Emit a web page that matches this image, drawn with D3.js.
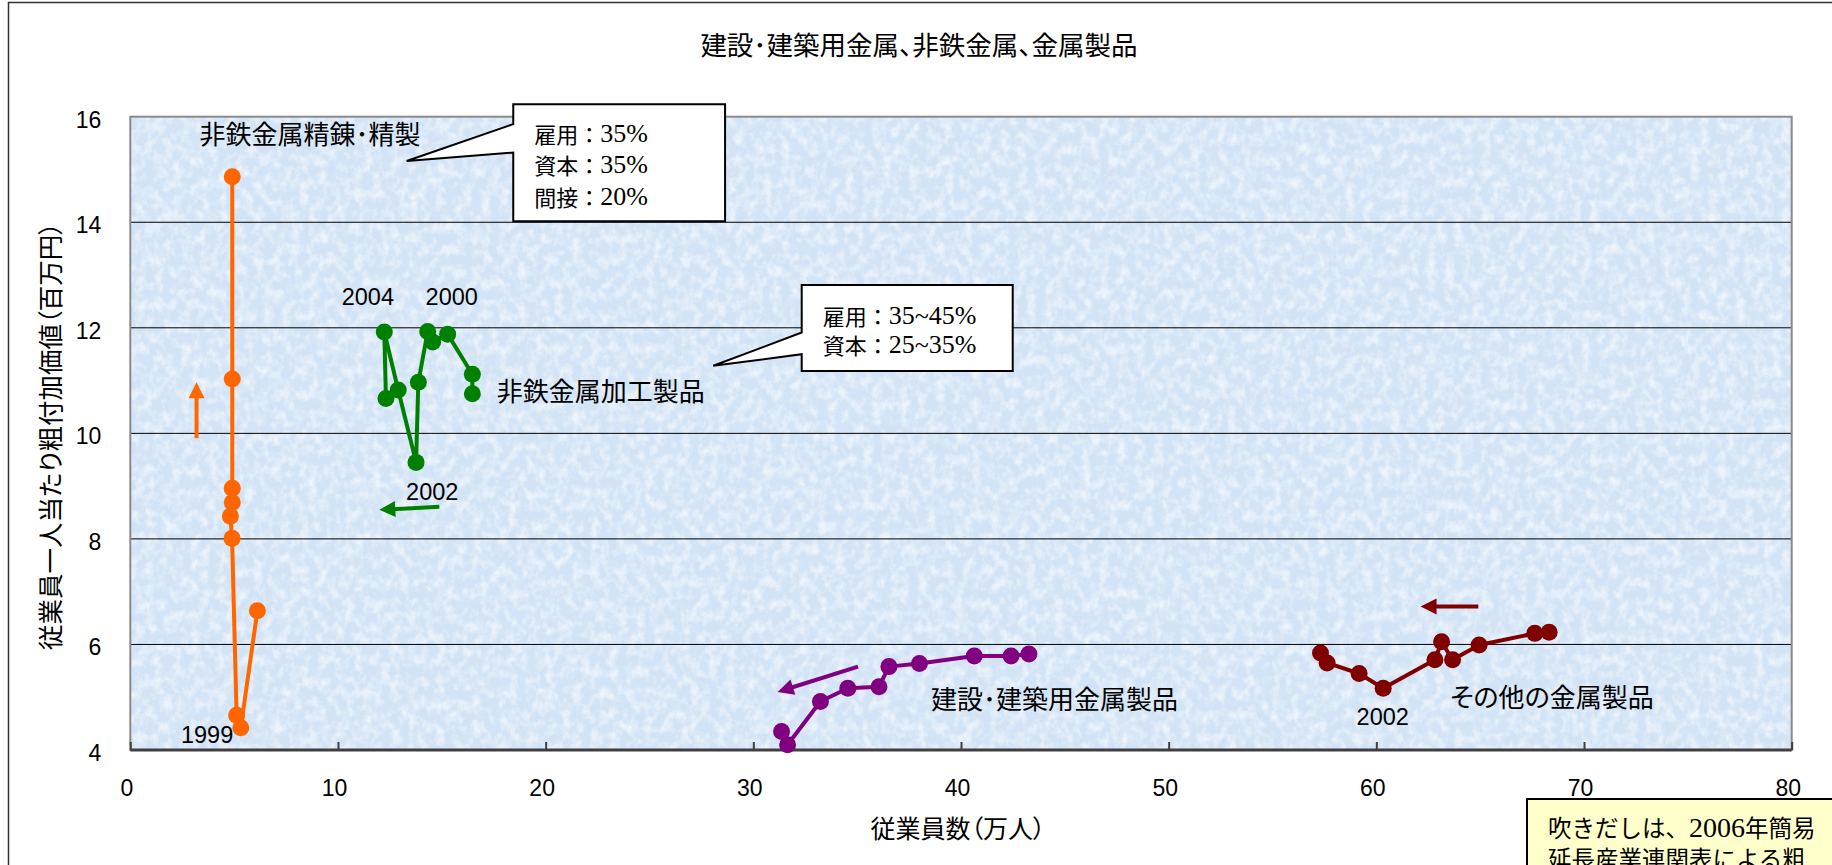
<!DOCTYPE html>
<html lang="ja">
<head>
<meta charset="utf-8">
<script src="https://cdn.jsdelivr.net/npm/d3@7"></script>
<style>
  html, body { margin: 0; padding: 0; background: #fff; overflow: hidden; }
  svg { display: block; }
  .cjk { font-family: "Noto Sans CJK JP", sans-serif; font-feature-settings: "palt"; fill: #000; }
  .cjkw { font-family: "Noto Sans CJK JP", sans-serif; fill: #000; }
  .num { font-family: "Liberation Sans", Arial, sans-serif; fill: #000; }
  .serif { font-family: "Liberation Serif", "Times New Roman", serif; }
</style>
</head>
<body>
<svg id="chart"></svg>
<script>
// Employees (10k persons) against gross value added per employee (million yen)
const chartTitle = "建設･建築用金属、非鉄金属、金属製品";
const xTitle = "従業員数（万人）";
const yTitle = "従業員一人当たり粗付加価値（百万円）";
const xTicks = [0, 10, 20, 30, 40, 50, 60, 70, 80];
const yTicks = [4, 6, 8, 10, 12, 14, 16];

const seriesNames = ["非鉄金属精錬･精製", "非鉄金属加工製品", "建設･建築用金属製品", "その他の金属製品"];
const seriesColors = ["#ff6600", "#008000", "#800080", "#800000"];

// 非鉄金属精錬･精製
const refiningEmp = [6.12, 5.32, 5.12, 4.90, 4.82, 4.91, 4.91, 4.91, 4.91];
const refiningVal = [6.64, 4.42, 4.66, 8.01, 8.43, 8.69, 8.96, 11.03, 14.86];
// 非鉄金属加工製品
const processingEmp = [16.47, 16.47, 15.28, 14.56, 14.32, 13.87, 13.76, 12.90, 12.23, 12.31];
const processingVal = [10.75, 11.12, 11.88, 11.73, 11.93, 10.97, 9.45, 10.82, 11.92, 10.66];
// 建設･建築用金属製品
const constructionEmp = [43.27, 42.41, 40.64, 38.00, 36.53, 36.05, 34.55, 33.23, 31.65, 31.36];
const constructionVal = [5.82, 5.78, 5.78, 5.64, 5.58, 5.20, 5.17, 4.92, 4.10, 4.35];
// その他の金属製品
const otherEmp = [68.32, 67.63, 64.95, 63.67, 63.14, 62.82, 60.33, 59.17, 57.63, 57.31];
const otherVal = [6.23, 6.21, 5.99, 5.71, 6.05, 5.71, 5.17, 5.45, 5.65, 5.84];

// callout lines: [Japanese part, numeric part]
const calloutTexts = [
  [["雇用：", "35%"], ["資本：", "35%"], ["間接：", "20%"]],
  [["雇用：", "35~45%"], ["資本：", "25~35%"]]
];
const noteLines = [["吹きだしは、", "2006", "年簡易"], ["延長産業連関表による粗"]];

const W = 1832, H = 865;
const svg = d3.select("#chart").attr("width", W).attr("height", H);

const x = d3.scaleLinear().domain([0, 80]).range([130.3, 1791.7]);
const y = d3.scaleLinear().domain([4, 16]).range([750, 116.7]);

// outer chart frame
svg.append("rect").attr("x", 8.5).attr("y", 2.5).attr("width", 1900).attr("height", 1000)
  .attr("fill", "#fff").attr("stroke", "#333").attr("stroke-width", 1.5);

// paper-like texture for the plot area
const defs = svg.append("defs");
const f1 = defs.append("filter").attr("id", "mottleLight")
  .attr("x", 0).attr("y", 0).attr("width", 1).attr("height", 1);
f1.append("feTurbulence").attr("type", "fractalNoise").attr("baseFrequency", "0.11 0.09")
  .attr("numOctaves", 4).attr("seed", 5);
f1.append("feColorMatrix").attr("type", "matrix")
  .attr("values", "0 0 0 0 1  0 0 0 0 1  0 0 0 0 1  2.4 0 0 0 -0.95");
const f2 = defs.append("filter").attr("id", "mottleDark")
  .attr("x", 0).attr("y", 0).attr("width", 1).attr("height", 1);
f2.append("feTurbulence").attr("type", "fractalNoise").attr("baseFrequency", "0.2 0.16")
  .attr("numOctaves", 3).attr("seed", 11);
f2.append("feColorMatrix").attr("type", "matrix")
  .attr("values", "0 0 0 0 0.68  0 0 0 0 0.8  0 0 0 0 0.94  0 2.4 0 0 -1.1");

const px0 = x(0), px1 = x(80), py0 = y(16), py1 = y(4);
svg.append("rect").attr("x", px0).attr("y", py0).attr("width", px1 - px0).attr("height", py1 - py0)
  .attr("fill", "#d2e3f5");
svg.append("rect").attr("x", px0).attr("y", py0).attr("width", px1 - px0).attr("height", py1 - py0)
  .attr("filter", "url(#mottleDark)").attr("opacity", 0.45);
svg.append("rect").attr("x", px0).attr("y", py0).attr("width", px1 - px0).attr("height", py1 - py0)
  .attr("filter", "url(#mottleLight)").attr("opacity", 0.6);

// horizontal gridlines
svg.append("g").selectAll("line").data(yTicks.filter(v => v > 4 && v < 16)).join("line")
  .attr("x1", px0).attr("x2", px1).attr("y1", d => y(d)).attr("y2", d => y(d))
  .attr("stroke", "#000").attr("stroke-width", 1);

// plot border
svg.append("rect").attr("x", px0).attr("y", py0).attr("width", px1 - px0).attr("height", py1 - py0)
  .attr("fill", "none").attr("stroke", "#8a8a8a").attr("stroke-width", 2);

// x axis: inner ticks, labels set well below the axis line
const gx = svg.append("g").attr("transform", `translate(0,${py1})`)
  .call(d3.axisBottom(x).tickValues(xTicks).tickSize(-8).tickPadding(30).tickFormat(d3.format("d")));
gx.select(".domain").remove();
gx.selectAll(".tick line").attr("stroke", "#404040").attr("stroke-width", 2);
gx.selectAll(".tick text").attr("class", "num").attr("font-size", 23).attr("dx", -4);
svg.append("line").attr("x1", px0).attr("x2", px1).attr("y1", py1).attr("y2", py1)
  .attr("stroke", "#404040").attr("stroke-width", 3);

// y axis labels
const gy = svg.append("g").attr("transform", `translate(${px0},0)`)
  .call(d3.axisLeft(y).tickValues(yTicks).tickSize(0).tickPadding(29).tickFormat(d3.format("d")));
gy.select(".domain").remove();
gy.selectAll(".tick text").attr("class", "num").attr("font-size", 23).attr("dy", "0.45em");

// series
const series = [
  { emp: refiningEmp, val: refiningVal },
  { emp: processingEmp, val: processingVal },
  { emp: constructionEmp, val: constructionVal },
  { emp: otherEmp, val: otherVal }
];
const line = d3.line().x(d => x(d[0])).y(d => y(d[1]));
series.forEach((s, i) => {
  const pts = s.emp.map((e, k) => [e, s.val[k]]);
  const g = svg.append("g");
  g.append("path").attr("d", line(pts)).attr("fill", "none")
    .attr("stroke", seriesColors[i]).attr("stroke-width", 4)
    .attr("stroke-linejoin", "round").attr("stroke-linecap", "round");
  g.selectAll("circle").data(pts).join("circle")
    .attr("cx", d => x(d[0])).attr("cy", d => y(d[1])).attr("r", 8.5)
    .attr("fill", seriesColors[i]);
});

// series names and year markers
const nameSpots = [[3.33, 15.71], [17.64, 10.84], [38.56, 4.99], [63.55, 5.04]];
seriesNames.forEach((n, i) => {
  svg.append("text").attr("class", "cjk").attr("font-size", 26)
    .attr("x", x(nameSpots[i][0])).attr("y", y(nameSpots[i][1]))
    .attr("dominant-baseline", "central").text(n);
});
const yearNotes = [
  { t: "1999", at: [2.44, 4.29] },
  { t: "2004", at: [10.18, 12.59] },
  { t: "2000", at: [14.22, 12.59] },
  { t: "2002", at: [13.28, 8.88] },
  { t: "2002", at: [59.05, 4.63] }
];
yearNotes.forEach(d => {
  svg.append("text").attr("class", "num").attr("font-size", 23.5)
    .attr("x", x(d.at[0])).attr("y", y(d.at[1]))
    .attr("dominant-baseline", "central").text(d.t);
});

// direction arrows
function arrow(from, to, color) {
  const x0 = x(from[0]), y0 = y(from[1]), x1 = x(to[0]), y1 = y(to[1]);
  const dx = x1 - x0, dy = y1 - y0, len = Math.hypot(dx, dy);
  const ux = dx / len, uy = dy / len, hl = 16, hw = 8;
  const bx = x1 - ux * hl, by = y1 - uy * hl;
  svg.append("line").attr("x1", x0).attr("y1", y0).attr("x2", bx + ux * 2).attr("y2", by + uy * 2)
    .attr("stroke", color).attr("stroke-width", 4);
  svg.append("path")
    .attr("d", `M${x1},${y1}L${bx - uy * hw},${by + ux * hw}L${bx + uy * hw},${by - ux * hw}Z`)
    .attr("fill", color);
}
arrow([3.19, 9.91], [3.19, 10.97], seriesColors[0]);
arrow([14.88, 8.61], [11.99, 8.55], seriesColors[1]);
arrow([35.04, 5.58], [31.17, 5.10], seriesColors[2]);
arrow([64.91, 6.72], [62.13, 6.72], seriesColors[3]);

// mixed Japanese / numeric text line
function mixedText(parent, px, py, parts, cjkSize, numSize) {
  const t = parent.append("text").attr("x", px).attr("y", py).attr("dominant-baseline", "central")
    .attr("fill", "#000");
  parts.forEach(p => {
    const numeric = /^[0-9~%]+$/.test(p);
    t.append("tspan").attr("class", numeric ? "serif" : "cjkw")
      .attr("font-size", numeric ? numSize : cjkSize).text(p);
  });
  return t;
}

// callouts with a pointer on the left side
function callout(box, notch, tip, lines, spacing) {
  const l = x(box[0]), r = x(box[1]), t = y(box[2]), b = y(box[3]);
  const n1 = y(notch[0]), n2 = y(notch[1]);
  svg.append("path")
    .attr("d", `M${l},${t}L${r},${t}L${r},${b}L${l},${b}L${l},${n2}L${x(tip[0])},${y(tip[1])}L${l},${n1}Z`)
    .attr("fill", "#fff").attr("stroke", "#000").attr("stroke-width", 2).attr("stroke-linejoin", "miter");
  const mid = (t + b) / 2 + 1.5;
  lines.forEach((parts, k) => {
    mixedText(svg, l + 21, mid + (k - (lines.length - 1) / 2) * spacing, parts, 22, 26);
  });
}
callout([18.44, 28.64, 16.235, 14.02], [15.86, 15.32], [13.31, 15.16], calloutTexts[0], 31.6);
callout([32.33, 42.49, 12.81, 11.18], [11.91, 11.50], [28.07, 11.28], calloutTexts[1], 28.4);

// titles
svg.append("text").attr("class", "cjk").attr("font-size", 26.5)
  .attr("x", 919).attr("y", 43).attr("text-anchor", "middle").attr("dominant-baseline", "central")
  .text(chartTitle);
svg.append("text").attr("class", "cjk").attr("font-size", 25)
  .attr("x", 958).attr("y", 827).attr("text-anchor", "middle").attr("dominant-baseline", "central")
  .text(xTitle);
svg.append("text").attr("class", "cjk").attr("font-size", 25.5)
  .attr("transform", "translate(48,436) rotate(-90)")
  .attr("text-anchor", "middle").attr("dominant-baseline", "central")
  .text(yTitle);

// source note
svg.append("rect").attr("x", 1527).attr("y", 799).attr("width", 400).attr("height", 120)
  .attr("fill", "#ffffcc").attr("stroke", "#000").attr("stroke-width", 2);
noteLines.forEach((parts, k) => {
  mixedText(svg, 1548, 827 + k * 31, parts, 23.5, 28);
});
</script>
</body>
</html>
